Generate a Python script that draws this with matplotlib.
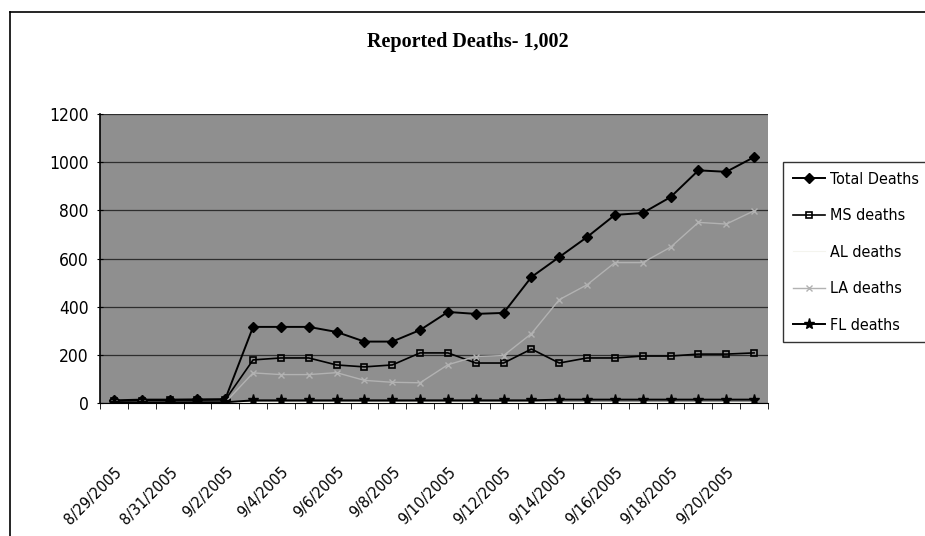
import matplotlib
matplotlib.use('Agg')
import matplotlib.pyplot as plt
from matplotlib.lines import Line2D
from matplotlib.ticker import FixedLocator
import numpy as np

# donnees
dates = ['8/29/2005', '8/30/2005', '8/31/2005', '9/1/2005', '9/2/2005', '9/3/2005',
         '9/4/2005', '9/5/2005', '9/6/2005', '9/7/2005', '9/8/2005', '9/9/2005',
         '9/10/2005', '9/11/2005', '9/12/2005', '9/13/2005', '9/14/2005', '9/15/2005',
         '9/16/2005', '9/17/2005', '9/18/2005', '9/19/2005', '9/20/2005', '9/21/2005']
total = [11, 14, 14, 15, 16, 316, 316, 316, 295, 255, 255, 303,
         378, 370, 374, 523, 606, 689, 781, 789, 855, 966, 960, 1021]
ms = [8, 10, 12, 12, 13, 179, 187, 187, 158, 150, 158, 208,
      208, 166, 166, 224, 166, 187, 187, 195, 195, 203, 203, 208]
al = [0, 0, 2, 2, 2, 2, 2, 2, 2, 2, 2, 2,
      2, 2, 2, 2, 2, 2, 2, 2, 2, 2, 2, 2]
la = [1, 2, 2, 2, 2, 125, 118, 118, 126, 94, 86, 84,
      159, 193, 197, 288, 429, 491, 583, 583, 647, 750, 743, 798]
fl = [2, 2, 3, 3, 3, 11, 11, 11, 11, 11, 11, 11,
      11, 11, 11, 11, 14, 14, 14, 14, 14, 14, 14, 14]
tick_labels = dates[::2]
y_ticks = [0, 200, 400, 600, 800, 1000, 1200]

# police etroite (DejaVu Sans Condensed)
plt.rcParams['font.family'] = ['DejaVu Sans']
plt.rcParams['font.stretch'] = 'condensed'

W, H = 925, 536
fig = plt.figure(figsize=(W / 100, H / 100), dpi=100)
fig.patch.set_facecolor('white')

# zone de trace
ax = fig.add_axes([100 / W, 1 - 403 / H, 668 / W, 289 / H])
ax.set_facecolor('#8f8f8f')

x = np.arange(len(dates))
ax.plot(x, total, color='black', lw=1.4, marker='D', ms=5.5, label='Total Deaths')
ax.plot(x, ms, color='black', lw=1.2, marker='s', ms=5, mfc='none', mec='black',
        mew=1.2, label='MS deaths')
ax.plot(x, al, color='#f4f4ee', lw=0.8, label='AL deaths')
ax.plot(x, la, color='#b2b2b2', lw=1.0, marker='x', ms=5, mew=1.0, label='LA deaths')
ax.plot(x, fl, color='black', lw=1.4, marker='*', ms=8, label='FL deaths')

ax.set_xlim(-0.5, len(dates) - 0.5)
ax.set_ylim(0, 1200)
ax.set_yticks(y_ticks)
ax.set_yticklabels([str(v) for v in y_ticks], fontsize=12.5)
ax.yaxis.grid(True, color='#2e2e2e', lw=0.9)
ax.set_axisbelow(True)

ax.set_xticks(x[::2])
ax.set_xticklabels(tick_labels, rotation=45, ha='right', va='top',
                   rotation_mode='anchor', fontsize=11.5)
ax.tick_params(axis='x', which='major', length=0, pad=44)
ax.xaxis.set_minor_locator(FixedLocator(np.arange(-0.5, len(dates), 1)))
ax.tick_params(axis='x', which='minor', length=4, direction='out', color='black')
ax.tick_params(axis='y', length=4, direction='inout', pad=6)

for s in ['top', 'right']:
    ax.spines[s].set_visible(False)
ax.spines['left'].set_color('black')
ax.spines['bottom'].set_color('black')
ax.spines['left'].set_linewidth(1.2)

# titre
fig.text(468 / W, 1 - 42 / H, 'Reported Deaths- 1,002', ha='center', va='center',
         fontsize=14.5, fontweight='bold', fontstretch='normal',
         family=['Liberation Serif', 'DejaVu Serif'])

# legende
leg = fig.legend(loc='upper left', bbox_to_anchor=(783 / W, 1 - 162 / H),
                 fontsize=11.5, frameon=True, fancybox=False, shadow=False,
                 handlelength=2.0, handletextpad=0.35, labelspacing=1.35,
                 borderpad=0.6, borderaxespad=0)
leg.get_frame().set_edgecolor('black')
leg.get_frame().set_linewidth(1.0)
leg.get_frame().set_facecolor('white')

# cadre de la page
fig.add_artist(Line2D([10 / W, 10 / W], [0, 1 - 12 / H], color='black', lw=1.2))
fig.add_artist(Line2D([10 / W, 1], [1 - 12 / H, 1 - 12 / H], color='black', lw=1.2))

fig.savefig('out.png', dpi=100)
